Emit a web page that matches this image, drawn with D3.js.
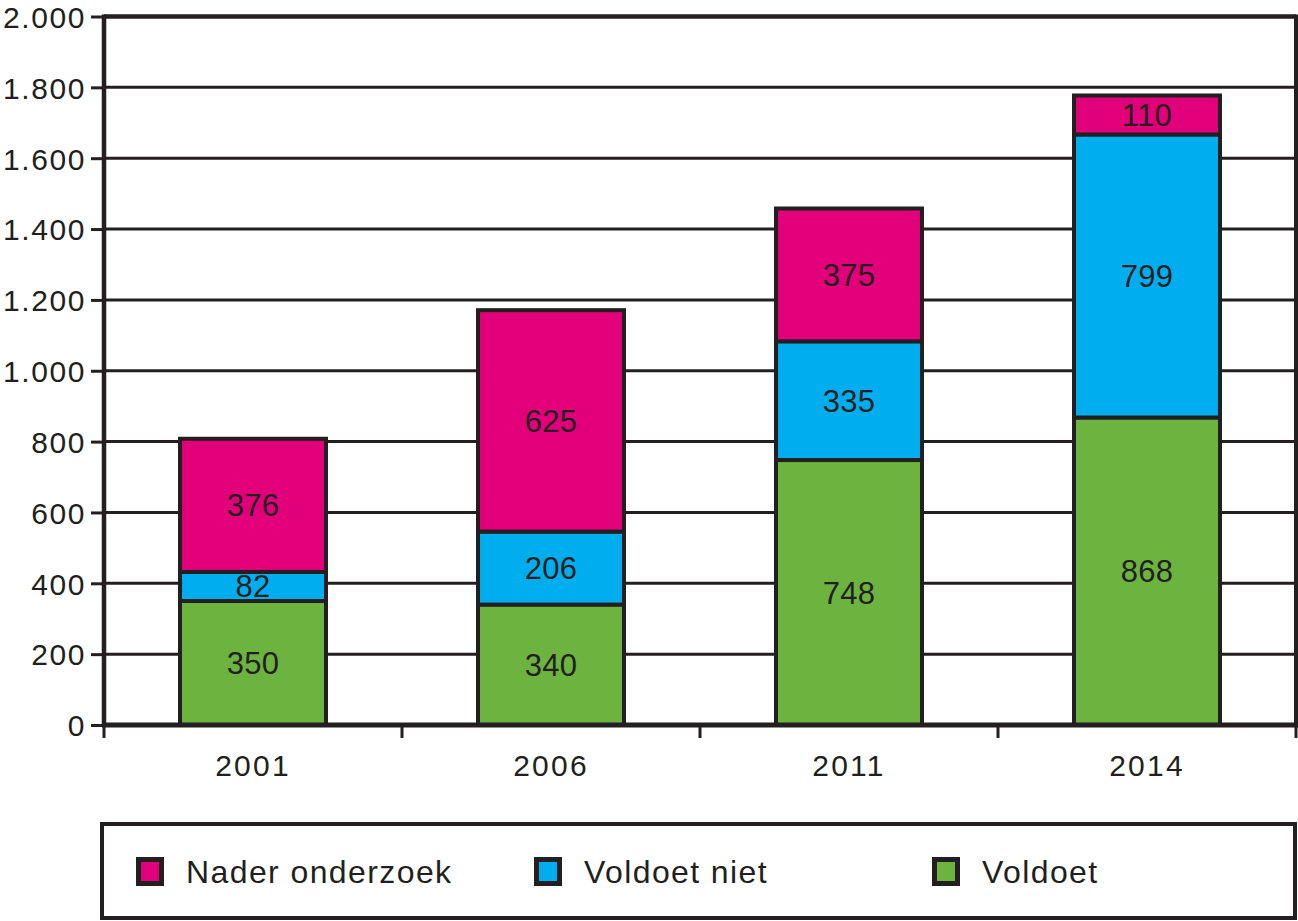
<!DOCTYPE html>
<html><head><meta charset="utf-8">
<script src="https://cdn.jsdelivr.net/npm/d3@7"></script>
<style>body{margin:0;background:#fff}svg{display:block}text{font-family:"Liberation Sans",Arial,sans-serif;fill:#231f20}</style>
</head><body><svg id="c" width="1298" height="921"></svg>
<script>
const years = ["2001","2006","2011","2014"];
const seriesNames = ["Voldoet","Voldoet niet","Nader onderzoek"];
const voldoet = [350,340,748,868];
const voldoetNiet = [82,206,335,799];
const naderOnderzoek = [376,625,375,110];
const yTicks = [0,200,400,600,800,1000,1200,1400,1600,1800,2000];
const legendOrder = ["Nader onderzoek","Voldoet niet","Voldoet"];
const colors = {"Voldoet":"#6db33f","Voldoet niet":"#00aeef","Nader onderzoek":"#e2007a"};
const ink = "#231f20";

const rows = years.map((y,i)=>({year:y,"Voldoet":voldoet[i],"Voldoet niet":voldoetNiet[i],"Nader onderzoek":naderOnderzoek[i]}));
const stacked = d3.stack().keys(seriesNames)(rows);

const svg = d3.select("#c");
const L=104, R=1296, T=16.5, B=725;
const x = d3.scaleBand().domain(years).range([L,R]).paddingInner(0.5).paddingOuter(0.25);
const xb = d3.scaleBand().domain(years).range([L,R]);
const y = d3.scaleLinear().domain([0,2000]).range([B,T]);

const fmt = d => d3.format(",")(d).replace(/,/g,".");

// gridlines
svg.append("g").selectAll("line").data(yTicks.filter(t=>t>0)).join("line")
  .attr("x1",L).attr("x2",R).attr("y1",d=>y(d)).attr("y2",d=>y(d))
  .attr("stroke",ink).attr("stroke-width",d=>d===2000?4.5:3);
// right border
svg.append("line").attr("x1",R).attr("x2",R).attr("y1",T-2).attr("y2",B)
  .attr("stroke",ink).attr("stroke-width",4);

// bars
const bw = x.bandwidth();
stacked.forEach(s=>{
  const g = svg.append("g");
  g.selectAll("rect").data(s).join("rect")
    .attr("x",d=>x(d.data.year)+1.5).attr("width",bw-3)
    .attr("y",d=>y(d[1])).attr("height",d=>y(d[0])-y(d[1]))
    .attr("fill",colors[s.key]).attr("stroke",ink).attr("stroke-width",4);
});
stacked.forEach(s=>{
  svg.append("g").selectAll("text").data(s).join("text")
    .attr("x",d=>x(d.data.year)+bw/2).attr("y",d=>(y(d[0])+y(d[1]))/2+11)
    .attr("text-anchor","middle").attr("font-size",31).attr("letter-spacing",0.3)
    .text(d=>d[1]-d[0]);
});

// y axis
const yAxis = d3.axisLeft(y).tickValues(yTicks).tickFormat(fmt).tickSize(13).tickPadding(6);
const gy = svg.append("g").attr("transform",`translate(${L},0)`).call(yAxis);
gy.select(".domain").attr("stroke",ink).attr("stroke-width",4.5).attr("d",`M0,${T-2}V${B+2}`);
gy.selectAll(".tick line").attr("stroke",ink).attr("stroke-width",3);
gy.selectAll(".tick text").attr("font-size",30).attr("letter-spacing",1.6).attr("fill",ink)
  .attr("font-family","Liberation Sans, Arial, sans-serif").attr("dy","0.36em").attr("x",-18);

// x axis
const xAxis = d3.axisBottom(xb).tickSize(0).tickPadding(30);
const gx = svg.append("g").attr("transform",`translate(0,${B})`).call(xAxis);
gx.select(".domain").remove();
gx.append("line").attr("x1",L-2).attr("x2",R+2).attr("stroke",ink).attr("stroke-width",5);
gx.selectAll(".tick text").attr("font-size",30).attr("letter-spacing",2.2).attr("fill",ink)
  .attr("font-family","Liberation Sans, Arial, sans-serif");
const bounds = years.map(d=>xb(d)).concat([R]);
gx.append("g").selectAll("line").data(bounds).join("line")
  .attr("x1",d=>d).attr("x2",d=>d).attr("y1",0).attr("y2",13)
  .attr("stroke",ink).attr("stroke-width",3);

// legend
svg.append("rect").attr("x",102).attr("y",824).attr("width",1193).attr("height",94)
  .attr("fill","none").attr("stroke",ink).attr("stroke-width",4);
const legX = [136,534,932];
const lg = svg.append("g").selectAll("g").data(legendOrder).join("g")
  .attr("transform",(d,i)=>`translate(${legX[i]},857)`);
lg.append("rect").attr("x",2.5).attr("y",2.5).attr("width",23).attr("height",24)
  .attr("fill",d=>colors[d]).attr("stroke",ink).attr("stroke-width",5);
lg.append("text").attr("x",50).attr("y",26).attr("font-size",32).attr("letter-spacing",1.4)
  .text(d=>d);
</script></body></html>
